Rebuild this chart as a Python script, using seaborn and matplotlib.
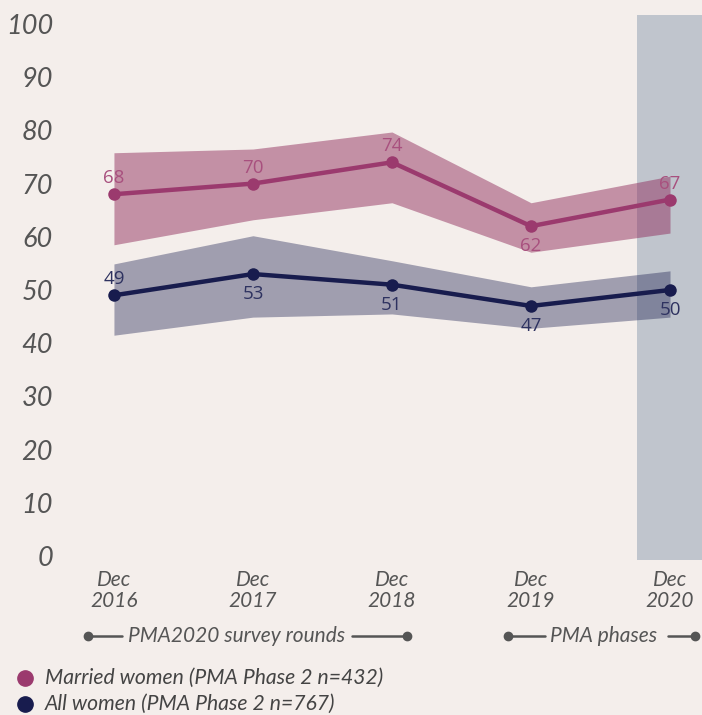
import numpy as np
import pandas as pd
import seaborn as sns
import matplotlib.pyplot as plt

# dati
rounds = ["Dec\n2016", "Dec\n2017", "Dec\n2018", "Dec\n2019", "Dec\n2020"]
married = [68, 70, 74, 62, 67]
married_lo = [58.5, 63.2, 66.4, 57.1, 60.7]
married_hi = [75.8, 76.5, 79.7, 66.4, 71.4]
allw = [49, 53, 51, 47, 50]
allw_lo = [41.5, 44.9, 45.5, 42.8, 44.9]
allw_hi = [54.9, 60.2, 55.5, 50.6, 53.6]
married_pos = ["above", "above", "above", "below", "above"]
allw_pos = ["above", "below", "below", "below", "below"]

BG = "#f4eeeb"
MAG = "#9b3a6e"
NAVY = "#181c4e"
GREY = "#555555"

sns.set_style("white")
plt.rcParams['font.family'] = ['Lato', 'DejaVu Sans']

W, H = 702, 715
fig = plt.figure(figsize=(W / 100, H / 100), dpi=100, facecolor=BG)
ax = fig.add_axes([60 / W, 1 - 560 / H, 642 / W, 550 / H], facecolor=BG)

x = np.arange(len(rounds))
df = pd.DataFrame({"x": np.concatenate([x, x]),
                   "val": married + allw,
                   "grp": ["married"] * 5 + ["all"] * 5})

# area grigia per la fase PMA
ax.axvspan(3.763, 4.3, ymin=0.0, ymax=(101.7 + 0.75) / 103.38, color="#c0c5cd", zorder=0, lw=0)

ax.fill_between(x, married_lo, married_hi, color="#8e2a5a", alpha=0.48, lw=0, zorder=1)
ax.fill_between(x, allw_lo, allw_hi, color=NAVY, alpha=0.38, lw=0, zorder=1)

sns.lineplot(data=df, x="x", y="val", hue="grp", palette={"married": MAG, "all": NAVY},
             marker="o", markersize=9, markeredgewidth=0, linewidth=3.2,
             legend=False, ax=ax, zorder=3)

def etichette(vals, pos, col):
    for xi, v, p in zip(x, vals, pos):
        off = 5 if p == "above" else -8
        ax.annotate(str(v), (xi, v), xytext=(0, off), textcoords="offset points",
                    ha="center", va="bottom" if p == "above" else "top",
                    fontsize=13.5, color=col, family=["Open Sans", "DejaVu Sans"])

etichette(married, married_pos, "#a8507e")
etichette(allw, allw_pos, "#2e3260")

ax.set_xlim(-0.388, 4.23)
ax.set_ylim(-0.75, 102.63)
ax.set_yticks(range(0, 101, 10))
ax.set_yticklabels([str(v) for v in range(0, 101, 10)], fontsize=19.5, style="italic", color=GREY)
ax.set_xticks(x)
ax.set_xticklabels(rounds, fontsize=15, style="italic", color=GREY, linespacing=1.1)
ax.tick_params(axis="both", length=0)
ax.tick_params(axis="y", pad=5)
ax.tick_params(axis="x", pad=7)
ax.set_xlabel("")
ax.set_ylabel("")
sns.despine(ax=ax, left=True, bottom=True)

# decorazioni in coordinate pixel
deco = fig.add_axes([0, 0, 1, 1], facecolor="none")
deco.set_xlim(0, W)
deco.set_ylim(H, 0)
deco.axis("off")

for x0, x1 in [(88, 122), (352, 407), (508, 545), (668, 695)]:
    deco.plot([x0, x1], [636, 636], color=GREY, lw=1.8)
deco.plot([88, 407, 508, 695], [636] * 4, "o", color=GREY, ms=6)
deco.text(237, 636, "PMA2020 survey rounds", ha="center", va="center",
          fontsize=15, style="italic", color=GREY)
deco.text(604, 636, "PMA phases", ha="center", va="center",
          fontsize=15, style="italic", color=GREY)

deco.plot([25], [678], "o", color=MAG, ms=11)
deco.plot([25], [704], "o", color=NAVY, ms=11)
deco.text(45, 678, "Married women (PMA Phase 2 n=432)", va="center",
          fontsize=15.2, style="italic", color="#444444")
deco.text(45, 704, "All women (PMA Phase 2 n=767)", va="center",
          fontsize=15.2, style="italic", color="#444444")

fig.savefig("out.png", dpi=100, facecolor=BG)
